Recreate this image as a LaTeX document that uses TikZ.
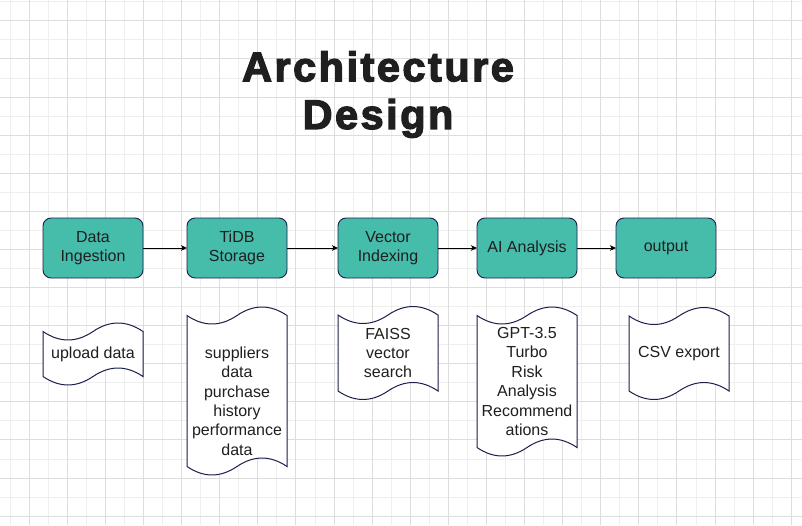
\documentclass[tikz,border=0pt]{standalone}
\usepackage{fontspec}
\setmainfont{Liberation Sans}
\newfontfamily\titlefont{Liberation Sans Bold}[FakeBold=3, LetterSpace=6]
\usetikzlibrary{arrows.meta, positioning, calc, backgrounds}

\definecolor{stepfill}{HTML}{46BCAB}
\definecolor{stepline}{HTML}{1B1F4B}
\definecolor{gridminor}{HTML}{EFEFEF}
\definecolor{gridmajor}{HTML}{DDDDDD}
\definecolor{inktext}{HTML}{1F1F1F}

\newcommand{\bodyfont}{\fontsize{16}{19.4}\selectfont}

% wavy outline round a tape node, optional lift of the outline
\newcommand{\tapeout}[2][0pt]{%
  \draw[tapeline] let \p1=(#2.north west), \p2=(#2.south east),
      \n1={(\x2-\x1)/6}, \n2={(\x1+\x2)/2} in
    (\x1,{\y1+#1}) .. controls +(\n1,-11.3pt) and +(-\n1,-11.3pt) .. (\n2,{\y1+#1})
      .. controls +(\n1,11.3pt) and +(-\n1,11.3pt) .. (\x2,{\y1+#1})
    -- (\x2,{\y2+#1})
      .. controls +(-\n1,11.3pt) and +(\n1,11.3pt) .. (\n2,{\y2+#1})
      .. controls +(-\n1,-11.3pt) and +(\n1,-11.3pt) .. (\x1,{\y2+#1})
    -- cycle;
}

\begin{document}
\begin{tikzpicture}[
    x=1pt, y=-1pt,
    stepbox/.style={draw=stepline, fill=stepfill, rounded corners=8pt, line width=0.9pt,
      minimum width=100pt, minimum height=60pt, inner sep=0pt, outer sep=0pt, align=center,
      text=inktext, font=\bodyfont},
    tape/.style={minimum width=100pt, inner sep=0pt, outer sep=0pt, align=center,
      text=inktext, font=\bodyfont},
    tapeline/.style={draw=stepline, fill=white, line width=1pt},
    title/.style={align=center, text=inktext, font=\titlefont\fontsize{41.5}{47.7}\selectfont},
    flow/.style={-{Stealth[length=6pt, width=5.5pt, inset=1.5pt]}, line width=1pt, black}
]
\useasboundingbox (0,0) rectangle (802,525);

% grid
\begin{scope}[on background layer]
\fill[white] (0,0) rectangle (802,525);
\foreach \i in {0,2,...,40} \draw[gridminor, line width=1pt] ({10.2+19.05*\i},0) -- ({10.2+19.05*\i},525);
\foreach \i in {0,2,...,26} \draw[gridminor, line width=1pt] (0,{1.8+19.05*\i}) -- (802,{1.8+19.05*\i});
\foreach \i in {1,3,...,41} \draw[gridmajor, line width=1pt] ({10.2+19.05*\i},0) -- ({10.2+19.05*\i},525);
\foreach \i in {1,3,...,27} \draw[gridmajor, line width=1pt] (0,{1.8+19.05*\i}) -- (802,{1.8+19.05*\i});
\end{scope}

\node[title] (head) at (378,94.5) {Architecture\\Design};

% pipeline
\node[stepbox] (ingest) at (93,248) {Data\\Ingestion};
\node[stepbox, right=44pt of ingest] (store) {TiDB\\Storage};
\node[stepbox, right=51pt of store] (vec) {Vector\\Indexing};
\node[stepbox, right=39pt of vec] (ai) {AI Analysis};
\node[stepbox, right=39pt of ai] (out) {output};

\draw[flow] (ingest) -- (store);
\draw[flow] (store) -- (vec);
\draw[flow] (vec) -- (ai);
\draw[flow] (ai) -- (out);

% notes under each step
\node[tape, minimum height=45pt, below=53.5pt of ingest] (upload) {upload data};
\node[tape, minimum height=151pt, below=47.5pt of store] (sup) {suppliers\\data\\purchase\\history\\performance\\data};
\node[tape, minimum height=76pt, below=37pt of vec] (faiss) {FAISS\\vector\\search};
\node[tape, minimum height=132pt, below=37.5pt of ai] (gpt) {GPT-3.5\\Turbo\\Risk\\Analysis\\Recommend\\ations};
\node[tape, minimum height=75pt, below=38pt of out, xshift=13pt] (csv) {CSV export};

\begin{scope}[on background layer]
\tapeout{upload}
\tapeout[10pt]{sup}
\tapeout{faiss}
\tapeout{gpt}
\tapeout{csv}
\end{scope}
\end{tikzpicture}
\end{document}
